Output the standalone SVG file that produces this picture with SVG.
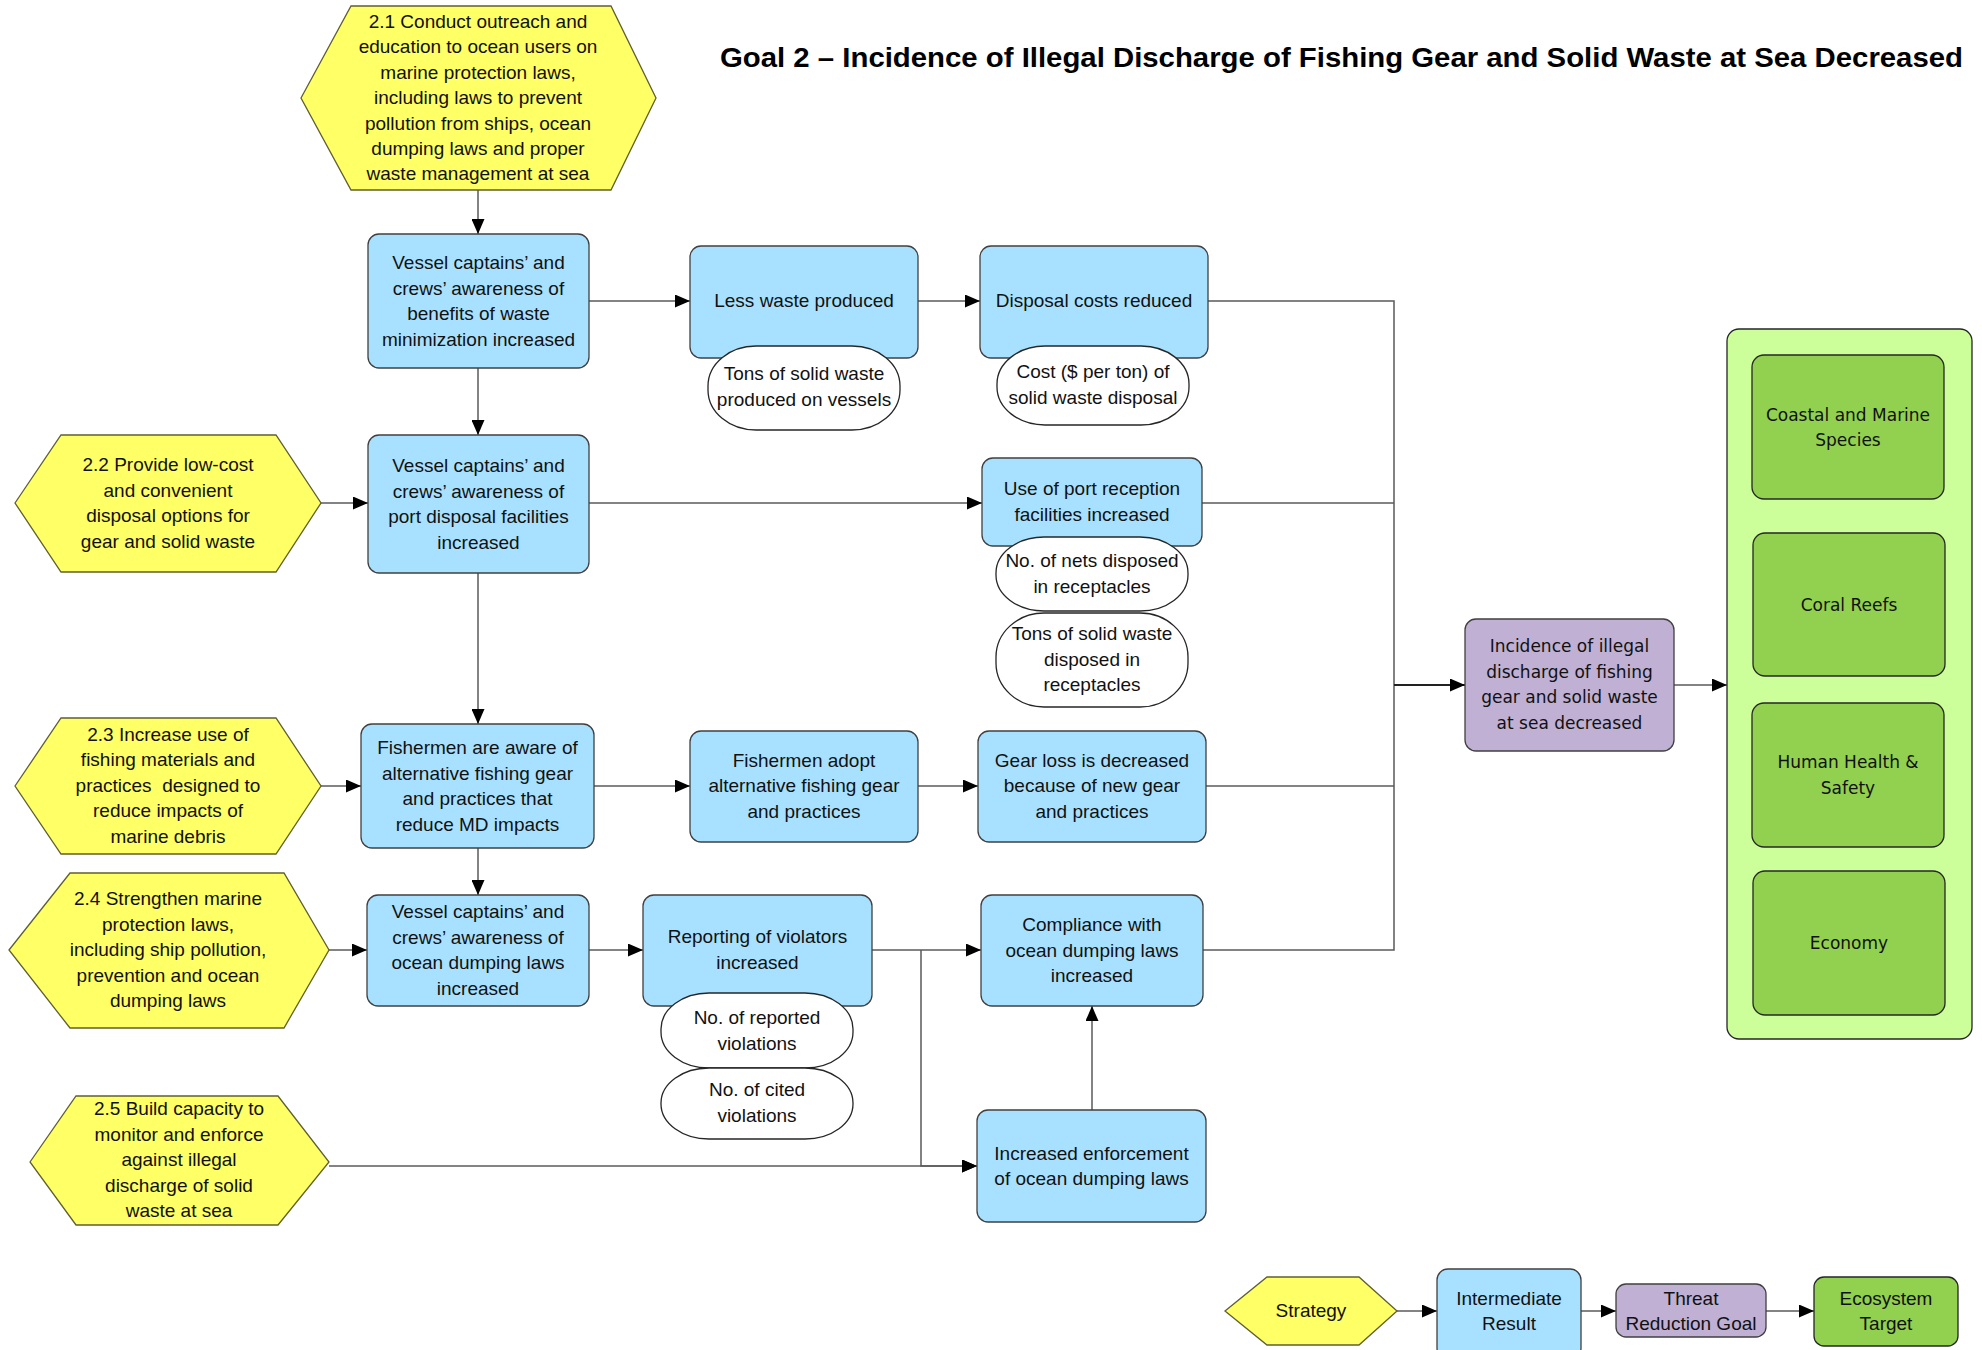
<svg xmlns="http://www.w3.org/2000/svg" width="1982" height="1350" viewBox="0 0 1982 1350">
  <defs>
    <marker id="arrow" markerWidth="15" markerHeight="13" refX="15" refY="6.5" orient="auto" markerUnits="userSpaceOnUse">
      <path d="M0,0 L15,6.5 L0,13 Z" fill="#000"/>
    </marker>
    <style>
      .strategy { fill: #FFFF66; stroke: #5f5f30; stroke-width: 1.3; }
      .result { fill: #A8E1FF; stroke: #404040; stroke-width: 1.3; }
      .goal { fill: #BFB0D4; stroke: #404040; stroke-width: 1.3; }
      .target { fill: #92D050; stroke: #262626; stroke-width: 1.3; }
      .targets { fill: #CCFF99; stroke: #262626; stroke-width: 1.3; }
      .indicator { fill: #FFFFFF; stroke: #262626; stroke-width: 1.3; }
      .lbl { font-family: "Liberation Sans", Arial, sans-serif; font-size: 19px; fill: #111; text-anchor: middle; }
      .wide { font-family: "DejaVu Sans", Verdana, sans-serif; font-size: 17px; fill: #111; text-anchor: middle; }
      .title { font-family: "Liberation Sans", Arial, sans-serif; font-size: 28px; font-weight: bold; fill: #000; }
      .conn { fill: none; stroke: #5a5a5a; stroke-width: 1.5; }
      .conn-dark { fill: none; stroke: #222; stroke-width: 2; }
    </style>
  </defs>

  <rect width="1982" height="1350" fill="#FFFFFF"/>

  <text class="title" x="720" y="67" textLength="1243" lengthAdjust="spacingAndGlyphs">Goal 2 – Incidence of Illegal Discharge of Fishing Gear and Solid Waste at Sea Decreased</text>

  <!-- connectors -->
  <g id="connectors">
    <path class="conn" d="M478,190 V234" marker-end="url(#arrow)"/>
    <path class="conn" d="M589,301 H690" marker-end="url(#arrow)"/>
    <path class="conn" d="M918,301 H980" marker-end="url(#arrow)"/>
    <path class="conn" d="M478,368 V435" marker-end="url(#arrow)"/>
    <path class="conn" d="M321,503 H368" marker-end="url(#arrow)"/>
    <path class="conn" d="M589,503 H982" marker-end="url(#arrow)"/>
    <path class="conn" d="M478,573 V724" marker-end="url(#arrow)"/>
    <path class="conn" d="M321,786 H361" marker-end="url(#arrow)"/>
    <path class="conn" d="M594,786 H690" marker-end="url(#arrow)"/>
    <path class="conn" d="M918,786 H978" marker-end="url(#arrow)"/>
    <path class="conn" d="M478,848 V895" marker-end="url(#arrow)"/>
    <path class="conn" d="M329,950 H367" marker-end="url(#arrow)"/>
    <path class="conn" d="M589,950 H643" marker-end="url(#arrow)"/>
    <path class="conn" d="M872,950 H981" marker-end="url(#arrow)"/>
    <path class="conn" d="M921,950 V1166 H977" marker-end="url(#arrow)"/>
    <path class="conn" d="M329,1166 H977" marker-end="url(#arrow)"/>
    <path class="conn" d="M1092,1110 V1006" marker-end="url(#arrow)"/>
    <!-- results merging into the goal -->
    <path class="conn" d="M1208,301 H1394 V950 H1203"/>
    <path class="conn" d="M1202,503 H1394"/>
    <path class="conn" d="M1206,786 H1394"/>
    <path class="conn-dark" d="M1394,685 H1465" marker-end="url(#arrow)"/>
    <path class="conn" d="M1674,685 H1727" marker-end="url(#arrow)"/>
    <!-- legend -->
    <path class="conn" d="M1397,1311 H1437" marker-end="url(#arrow)"/>
    <path class="conn" d="M1581,1311 H1616" marker-end="url(#arrow)"/>
    <path class="conn" d="M1766,1311 H1814" marker-end="url(#arrow)"/>
  </g>

  <!-- strategies -->
  <g id="s2-1">
    <polygon class="strategy" points="301,98 351,6 611,6 656,98 611,190 351,190"/>
    <text class="lbl" y="28"><tspan x="478">2.1 Conduct outreach and</tspan><tspan x="478" dy="25.4">education to ocean users on</tspan><tspan x="478" dy="25.4">marine protection laws,</tspan><tspan x="478" dy="25.4">including laws to prevent</tspan><tspan x="478" dy="25.4">pollution from ships, ocean</tspan><tspan x="478" dy="25.4">dumping laws and proper</tspan><tspan x="478" dy="25.4">waste management at sea</tspan></text>
  </g>
  <g id="s2-2">
    <polygon class="strategy" points="15,503 61,435 276,435 321,503 276,572 61,572"/>
    <text class="lbl" y="471"><tspan x="168">2.2 Provide low-cost</tspan><tspan x="168" dy="25.5">and convenient</tspan><tspan x="168" dy="25.5">disposal options for</tspan><tspan x="168" dy="25.5">gear and solid waste</tspan></text>
  </g>
  <g id="s2-3">
    <polygon class="strategy" points="15,786 61,718 276,718 321,786 276,854 61,854"/>
    <text class="lbl" y="740.5" xml:space="preserve"><tspan x="168">2.3 Increase use of</tspan><tspan x="168" dy="25.5">fishing materials and</tspan><tspan x="168" dy="25.5">practices  designed to</tspan><tspan x="168" dy="25.5">reduce impacts of</tspan><tspan x="168" dy="25.5">marine debris</tspan></text>
  </g>
  <g id="s2-4">
    <polygon class="strategy" points="9,950 70,873 284,873 329,950 284,1028 70,1028"/>
    <text class="lbl" y="905"><tspan x="168">2.4 Strengthen marine</tspan><tspan x="168" dy="25.5">protection laws,</tspan><tspan x="168" dy="25.5">including ship pollution,</tspan><tspan x="168" dy="25.5">prevention and ocean</tspan><tspan x="168" dy="25.5">dumping laws</tspan></text>
  </g>
  <g id="s2-5">
    <polygon class="strategy" points="30,1162 76,1096 278,1096 329,1162 278,1225 76,1225"/>
    <text class="lbl" y="1115"><tspan x="179">2.5 Build capacity to</tspan><tspan x="179" dy="25.5">monitor and enforce</tspan><tspan x="179" dy="25.5">against illegal</tspan><tspan x="179" dy="25.5">discharge of solid</tspan><tspan x="179" dy="25.5">waste at sea</tspan></text>
  </g>

  <!-- intermediate results -->
  <g id="r-waste-minimization">
    <rect class="result" x="368" y="234" width="221" height="134" rx="11"/>
    <text class="lbl" y="269"><tspan x="478.5">Vessel captains’ and</tspan><tspan x="478.5" dy="25.5">crews’ awareness of</tspan><tspan x="478.5" dy="25.5">benefits of waste</tspan><tspan x="478.5" dy="25.5">minimization increased</tspan></text>
  </g>
  <g id="r-less-waste">
    <rect class="result" x="690" y="246" width="228" height="112" rx="11"/>
    <text class="lbl" x="804" y="307">Less waste produced</text>
  </g>
  <g id="r-disposal-costs">
    <rect class="result" x="980" y="246" width="228" height="112" rx="11"/>
    <text class="lbl" x="1094" y="307">Disposal costs reduced</text>
  </g>
  <g id="r-port-awareness">
    <rect class="result" x="368" y="435" width="221" height="138" rx="11"/>
    <text class="lbl" y="472"><tspan x="478.5">Vessel captains’ and</tspan><tspan x="478.5" dy="25.5">crews’ awareness of</tspan><tspan x="478.5" dy="25.5">port disposal facilities</tspan><tspan x="478.5" dy="25.5">increased</tspan></text>
  </g>
  <g id="r-port-use">
    <rect class="result" x="982" y="458" width="220" height="88" rx="11"/>
    <text class="lbl" y="495"><tspan x="1092">Use of port reception</tspan><tspan x="1092" dy="25.5">facilities increased</tspan></text>
  </g>
  <g id="r-fishermen-aware">
    <rect class="result" x="361" y="724" width="233" height="124" rx="11"/>
    <text class="lbl" y="754"><tspan x="477.5">Fishermen are aware of</tspan><tspan x="477.5" dy="25.5">alternative fishing gear</tspan><tspan x="477.5" dy="25.5">and practices that</tspan><tspan x="477.5" dy="25.5">reduce MD impacts</tspan></text>
  </g>
  <g id="r-fishermen-adopt">
    <rect class="result" x="690" y="731" width="228" height="111" rx="11"/>
    <text class="lbl" y="766.5"><tspan x="804">Fishermen adopt</tspan><tspan x="804" dy="25.5">alternative fishing gear</tspan><tspan x="804" dy="25.5">and practices</tspan></text>
  </g>
  <g id="r-gear-loss">
    <rect class="result" x="978" y="731" width="228" height="111" rx="11"/>
    <text class="lbl" y="766.5"><tspan x="1092">Gear loss is decreased</tspan><tspan x="1092" dy="25.5">because of new gear</tspan><tspan x="1092" dy="25.5">and practices</tspan></text>
  </g>
  <g id="r-dumping-awareness">
    <rect class="result" x="367" y="895" width="222" height="111" rx="11"/>
    <text class="lbl" y="918"><tspan x="478">Vessel captains’ and</tspan><tspan x="478" dy="25.5">crews’ awareness of</tspan><tspan x="478" dy="25.5">ocean dumping laws</tspan><tspan x="478" dy="25.5">increased</tspan></text>
  </g>
  <g id="r-reporting">
    <rect class="result" x="643" y="895" width="229" height="111" rx="11"/>
    <text class="lbl" y="943"><tspan x="757.5">Reporting of violators</tspan><tspan x="757.5" dy="25.5">increased</tspan></text>
  </g>
  <g id="r-compliance">
    <rect class="result" x="981" y="895" width="222" height="111" rx="11"/>
    <text class="lbl" y="931"><tspan x="1092">Compliance with</tspan><tspan x="1092" dy="25.5">ocean dumping laws</tspan><tspan x="1092" dy="25.5">increased</tspan></text>
  </g>
  <g id="r-enforcement">
    <rect class="result" x="977" y="1110" width="229" height="112" rx="11"/>
    <text class="lbl" y="1159.5"><tspan x="1091.5">Increased enforcement</tspan><tspan x="1091.5" dy="25.5">of ocean dumping laws</tspan></text>
  </g>

  <!-- indicators -->
  <g id="i-tons-produced">
    <rect class="indicator" x="708" y="346" width="192" height="84" rx="48" ry="40"/>
    <text class="lbl" y="380"><tspan x="804">Tons of solid waste</tspan><tspan x="804" dy="25.5">produced on vessels</tspan></text>
  </g>
  <g id="i-disposal-cost">
    <rect class="indicator" x="997" y="346" width="192" height="79" rx="48" ry="38"/>
    <text class="lbl" y="378"><tspan x="1093">Cost ($ per ton) of</tspan><tspan x="1093" dy="25.5">solid waste disposal</tspan></text>
  </g>
  <g id="i-nets">
    <rect class="indicator" x="996" y="537" width="192" height="74" rx="48" ry="36"/>
    <text class="lbl" y="567"><tspan x="1092">No. of nets disposed</tspan><tspan x="1092" dy="25.5">in receptacles</tspan></text>
  </g>
  <g id="i-tons-disposed">
    <rect class="indicator" x="996" y="613" width="192" height="94" rx="48" ry="44"/>
    <text class="lbl" y="640"><tspan x="1092">Tons of solid waste</tspan><tspan x="1092" dy="25.5">disposed in</tspan><tspan x="1092" dy="25.5">receptacles</tspan></text>
  </g>
  <g id="i-reported">
    <rect class="indicator" x="661" y="993" width="192" height="75" rx="48" ry="36"/>
    <text class="lbl" y="1024"><tspan x="757">No. of reported</tspan><tspan x="757" dy="25.5">violations</tspan></text>
  </g>
  <g id="i-cited">
    <rect class="indicator" x="661" y="1068" width="192" height="71" rx="48" ry="35"/>
    <text class="lbl" y="1096"><tspan x="757">No. of cited</tspan><tspan x="757" dy="25.5">violations</tspan></text>
  </g>

  <!-- threat reduction goal -->
  <g id="goal">
    <rect class="goal" x="1465" y="619" width="209" height="132" rx="11"/>
    <text class="wide" y="652"><tspan x="1569.5">Incidence of illegal</tspan><tspan x="1569.5" dy="25.6">discharge of fishing</tspan><tspan x="1569.5" dy="25.6">gear and solid waste</tspan><tspan x="1569.5" dy="25.6">at sea decreased</tspan></text>
  </g>

  <!-- ecosystem targets -->
  <g id="targets">
    <rect class="targets" x="1727" y="329" width="245" height="710" rx="12"/>
  </g>
  <g id="t-species">
    <rect class="target" x="1752" y="355" width="192" height="144" rx="12"/>
    <text class="wide" y="420.5"><tspan x="1848">Coastal and Marine</tspan><tspan x="1848" dy="25.5">Species</tspan></text>
  </g>
  <g id="t-coral">
    <rect class="target" x="1753" y="533" width="192" height="143" rx="12"/>
    <text class="wide" x="1849" y="611">Coral Reefs</text>
  </g>
  <g id="t-health">
    <rect class="target" x="1752" y="703" width="192" height="144" rx="12"/>
    <text class="wide" y="768"><tspan x="1848">Human Health &amp;</tspan><tspan x="1848" dy="25.5">Safety</tspan></text>
  </g>
  <g id="t-economy">
    <rect class="target" x="1753" y="871" width="192" height="144" rx="12"/>
    <text class="wide" x="1849" y="949">Economy</text>
  </g>

  <!-- legend -->
  <g id="legend-strategy">
    <polygon class="strategy" points="1225,1311 1267,1277 1359,1277 1397,1311 1359,1345 1267,1345"/>
    <text class="lbl" x="1311" y="1317">Strategy</text>
  </g>
  <g id="legend-result">
    <rect class="result" x="1437" y="1269" width="144" height="90" rx="11"/>
    <text class="lbl" y="1305"><tspan x="1509">Intermediate</tspan><tspan x="1509" dy="25">Result</tspan></text>
  </g>
  <g id="legend-goal">
    <rect class="goal" x="1616" y="1284" width="150" height="53" rx="10"/>
    <text class="lbl" y="1305"><tspan x="1691">Threat</tspan><tspan x="1691" dy="25">Reduction Goal</tspan></text>
  </g>
  <g id="legend-target">
    <rect class="target" x="1814" y="1277" width="144" height="69" rx="10"/>
    <text class="lbl" y="1305"><tspan x="1886">Ecosystem</tspan><tspan x="1886" dy="25">Target</tspan></text>
  </g>
</svg>
